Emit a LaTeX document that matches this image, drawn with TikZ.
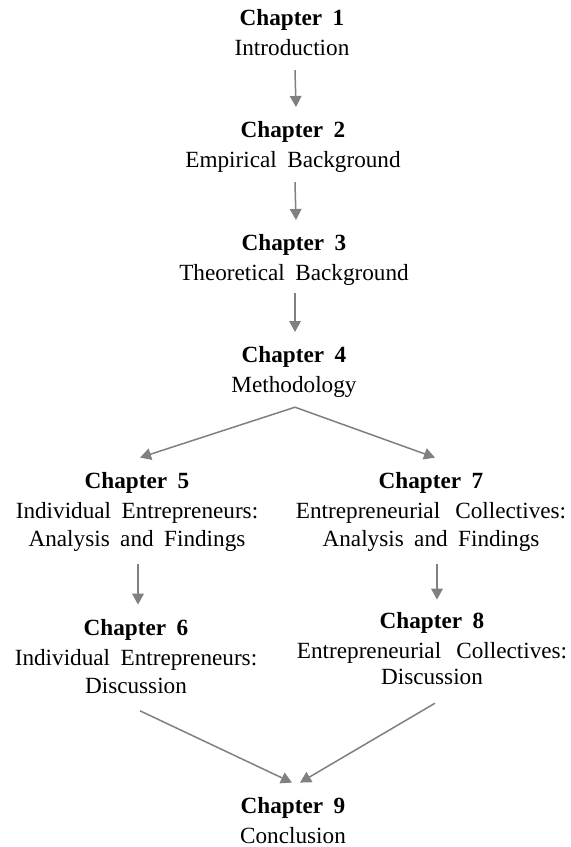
\documentclass[tikz,border=0pt]{standalone}
\usepackage{fontspec}
\setmainfont{Liberation Serif}
\usetikzlibrary{arrows.meta}
\definecolor{linkgray}{RGB}{128,128,128}
% one chapter entry: bold heading over its title lines, with wide word spaces
\newcommand\chaptext[2]{\spaceskip 0.45em\relax
  \begin{tabular}[t]{@{}c@{}}\textbf{Chapter #1}\\[1.2pt] #2\end{tabular}}
\begin{document}
\begin{tikzpicture}[x=0.5pt,y=-0.5pt,
  chap/.style={anchor=base, inner sep=0pt,
    font=\fontsize{11.6}{14}\selectfont},
  link/.style={draw=linkgray, line width=0.75pt,
    -{Triangle[length=5.5pt,width=5.8pt]}}]
\path[fill=white] (0,0) rectangle (570,847);
\useasboundingbox (0,0) rectangle (570,847);

\node[chap] (n1) at (292,25)  {\chaptext{1}{Introduction}};
\node[chap] (n2) at (293,137) {\chaptext{2}{Empirical Background}};
\node[chap] (n3) at (294,250) {\chaptext{3}{Theoretical Background}};
\node[chap] (n4) at (294,362) {\chaptext{4}{Methodology}};
\node[chap] (n5) at (137,488) {\chaptext{5}{Individual Entrepreneurs:\\ Analysis and Findings}};
\node[chap] (n7) at (431,488) {\chaptext{7}{Entrepreneurial\hspace{0.2em} Collectives:\\ Analysis and Findings}};
\node[chap] (n6) at (136,635) {\chaptext{6}{Individual Entrepreneurs:\\ Discussion}};
\node[chap] (n8) at (432,628) {\chaptext{8}{Entrepreneurial\hspace{0.2em} Collectives:\\[-1pt] Discussion}};
\node[chap] (n9) at (293,813) {\chaptext{9}{Conclusion}};

\draw[link] ([xshift=1.5pt,yshift=-3pt]n1.south) -- ([xshift=1.5pt,yshift=5pt]n2.north);
\draw[link] ([xshift=1pt,yshift=-3pt]n2.south) -- ([xshift=1pt,yshift=5pt]n3.north);
\draw[link] ([xshift=0.5pt,yshift=-2pt]n3.south) -- ([xshift=0.5pt,yshift=5pt]n4.north);
\coordinate (fork) at ([xshift=0.5pt,yshift=-3pt]n4.south);
\draw[link] (fork) -- ([xshift=1.5pt,yshift=5.2pt]n5.north);
\draw[link] (fork) -- ([xshift=2pt,yshift=5.2pt]n7.north);
\draw[link] ([xshift=0.5pt,yshift=-4.3pt]n5.south) -- ([xshift=1pt,yshift=5.2pt]n6.north);
\draw[link] ([xshift=3pt,yshift=-4.3pt]n7.south) -- ([xshift=2.5pt,yshift=4.2pt]n8.north);
\draw[link] ([xshift=2pt,yshift=-4.3pt]n6.south) -- ([xshift=-0.5pt,yshift=5.2pt]n9.north);
\draw[link] ([xshift=1.5pt,yshift=-5pt]n8.south) -- ([xshift=3.5pt,yshift=5.2pt]n9.north);
\end{tikzpicture}
\end{document}
